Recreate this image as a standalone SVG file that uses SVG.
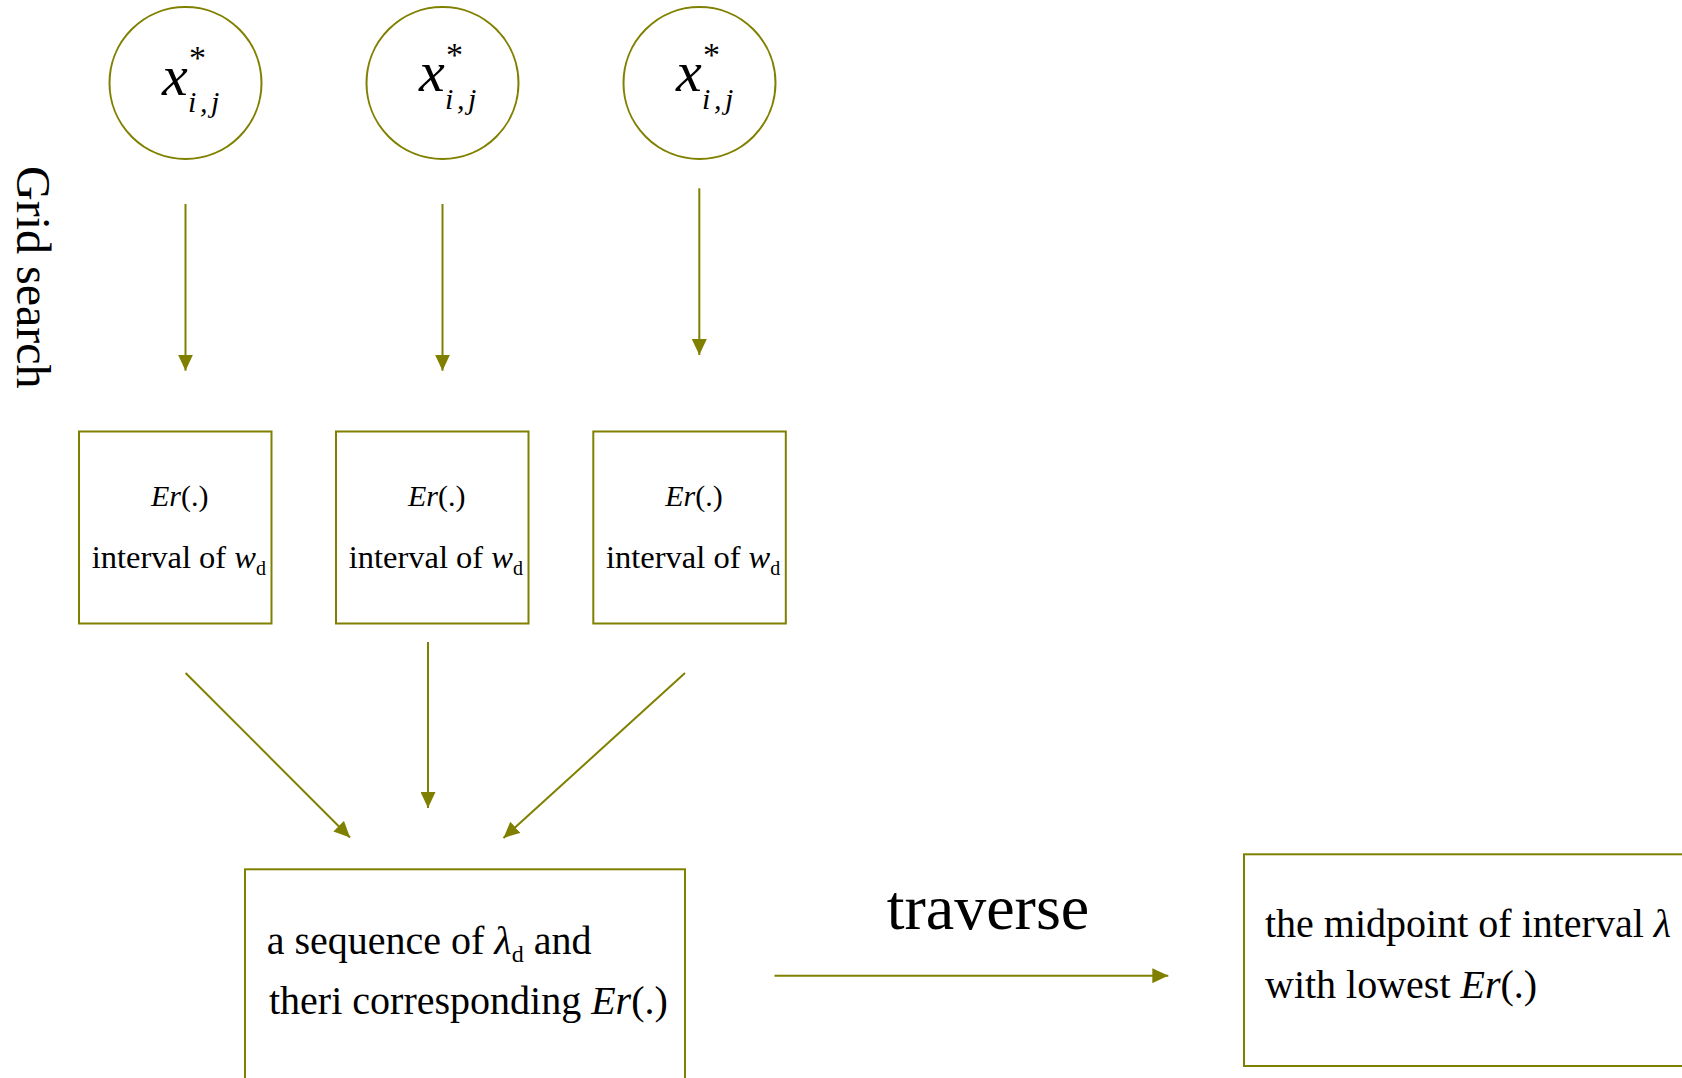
<svg xmlns="http://www.w3.org/2000/svg" width="1682" height="1078" viewBox="0 0 1682 1078">
<style>
.shape{fill:#ffffff;stroke:#808000;stroke-width:2}
.conn{stroke:#808000;stroke-width:2;fill:none}
text{font-family:"Liberation Serif","Times New Roman",serif;fill:#000000}
.it{font-style:italic}
.var{font-size:58px;font-style:italic}
.star{font-size:34px}
.sub{font-size:30px;font-style:italic}
.er{font-size:30px}
.iv{font-size:32.5px}
.big{font-size:40px}
</style>
<defs>
<marker id="ah" markerUnits="userSpaceOnUse" markerWidth="16" markerHeight="15" refX="16" refY="7.5" orient="auto">
<path d="M0,0 L16,7.5 L0,15 z" fill="#808000"/>
</marker>
</defs>
<rect width="1682" height="1078" fill="#ffffff"/>
<text id="grid-search" transform="translate(17,166) rotate(90)" font-size="48">Grid search</text>
<g id="circle1">
<circle class="shape" cx="185.5" cy="83" r="76"/>
<text class="var" x="162" y="94.5">x</text>
<text class="star" x="189" y="69">*</text>
<text class="sub" y="112"><tspan x="188">i</tspan><tspan x="200">,</tspan><tspan x="211">j</tspan></text>
</g>
<g id="circle2">
<circle class="shape" cx="442.5" cy="83" r="76"/>
<text class="var" x="419" y="91">x</text>
<text class="star" x="446" y="66">*</text>
<text class="sub" y="109"><tspan x="445">i</tspan><tspan x="457">,</tspan><tspan x="468">j</tspan></text>
</g>
<g id="circle3">
<circle class="shape" cx="699.5" cy="83" r="76"/>
<text class="var" x="676" y="91">x</text>
<text class="star" x="703" y="66">*</text>
<text class="sub" y="109"><tspan x="702">i</tspan><tspan x="714">,</tspan><tspan x="725">j</tspan></text>
</g>
<g id="box1">
<rect class="shape" x="79" y="431.5" width="192.5" height="192"/>
<text class="er" x="151" y="506"><tspan class="it">Er</tspan>(.)</text>
<text class="iv" x="91.7" y="568">interval of <tspan class="it">w</tspan><tspan font-size="20" dy="7">d</tspan></text>
</g>
<g id="box2">
<rect class="shape" x="336" y="431.5" width="192.5" height="192"/>
<text class="er" x="408" y="506"><tspan class="it">Er</tspan>(.)</text>
<text class="iv" x="348.7" y="568">interval of <tspan class="it">w</tspan><tspan font-size="20" dy="7">d</tspan></text>
</g>
<g id="box3">
<rect class="shape" x="593.3" y="431.5" width="192.5" height="192"/>
<text class="er" x="665.3" y="506"><tspan class="it">Er</tspan>(.)</text>
<text class="iv" x="606" y="568">interval of <tspan class="it">w</tspan><tspan font-size="20" dy="7">d</tspan></text>
</g>
<g id="box4">
<rect class="shape" x="245" y="869.3" width="440" height="230"/>
<text class="big" x="266.7" y="954">a sequence of <tspan class="it">λ</tspan><tspan font-size="24" dy="8">d</tspan><tspan dy="-8"> and</tspan></text>
<text class="big" x="269" y="1014">theri corresponding <tspan class="it">Er</tspan>(.)</text>
</g>
<g id="box5">
<rect class="shape" x="1244" y="854.3" width="450" height="211.7"/>
<text class="big" x="1265" y="937">the midpoint of interval <tspan class="it">λ</tspan></text>
<text class="big" x="1265" y="998">with lowest <tspan class="it">Er</tspan>(.)</text>
</g>
<text id="traverse" x="886.7" y="928.5" font-size="64">traverse</text>
<g id="connectors">
<line class="conn" x1="185.5" y1="204" x2="185.5" y2="370.7" marker-end="url(#ah)"/>
<line class="conn" x1="442.5" y1="204" x2="442.5" y2="370.7" marker-end="url(#ah)"/>
<line class="conn" x1="699.3" y1="188.3" x2="699.3" y2="355" marker-end="url(#ah)"/>
<line class="conn" x1="185.6" y1="673" x2="350" y2="837.5" marker-end="url(#ah)"/>
<line class="conn" x1="428" y1="642" x2="428" y2="808" marker-end="url(#ah)"/>
<line class="conn" x1="685" y1="673" x2="503.5" y2="838" marker-end="url(#ah)"/>
<line class="conn" x1="774.5" y1="975.7" x2="1168.3" y2="975.7" marker-end="url(#ah)"/>
</g>
</svg>
